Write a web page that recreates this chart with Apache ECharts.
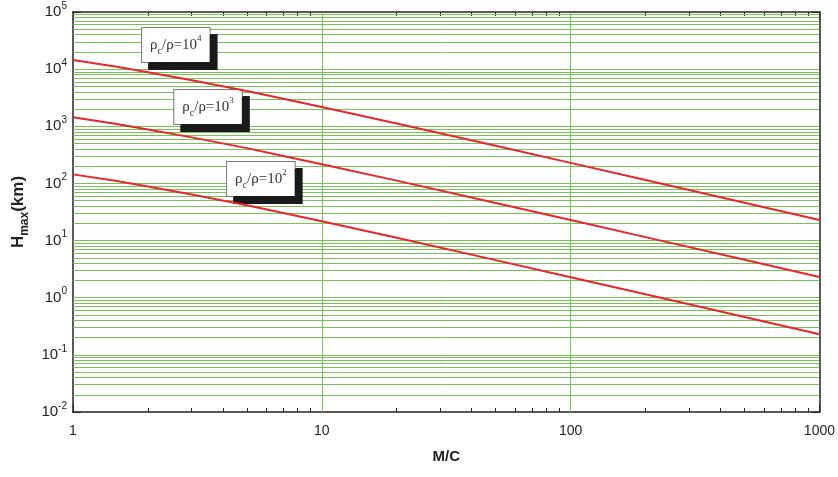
<!DOCTYPE html>
<html>
<head>
<meta charset="utf-8">
<script src="https://cdn.jsdelivr.net/npm/echarts@6/dist/echarts.min.js"></script>
<style>html,body{margin:0;padding:0;background:#fff;}#main{width:838px;height:477px;}</style>
</head>
<body>
<div id="main"></div>
<script>
// ---- data ----
const mcValues = [1, 1.5, 2, 3, 5, 7, 10, 20, 50, 100, 200, 500, 1000];
const hRatio1e4 = [14400, 11000, 8800, 6400, 4150, 3030, 2170, 1120, 455, 229, 115, 46, 23];
const hRatio1e3 = [1440, 1100, 880, 640, 415, 303, 217, 112, 45.5, 22.9, 11.5, 4.6, 2.3];
const hRatio1e2 = [144, 110, 88, 64, 41.5, 30.3, 21.7, 11.2, 4.55, 2.29, 1.15, 0.46, 0.23];
const xMajorGrid = [10, 100];
const xMinorTicks = [2,3,4,5,6,7,8,9,20,30,40,50,60,70,80,90,200,300,400,500,600,700,800,900];
const yDecades = [0.1, 1, 10, 100, 1000, 10000];
const yMinorTicks = [];
[0.01, 0.1, 1, 10, 100, 1000, 10000].forEach(function (d) {
  [2,3,4,5,6,7,8,9].forEach(function (m) { yMinorTicks.push(+(d * m).toPrecision(3)); });
});
const labelTexts = [
  { exp: '4', at: [2.59, 26500] },
  { exp: '3', at: [3.49, 2185] },
  { exp: '2', at: [5.69, 120] }
];

const GREEN = '#77c257';
const AXIS = '#222';

function pairs(ys) { return mcValues.map(function (x, i) { return [x, ys[i]]; }); }

const chart = echarts.init(document.getElementById('main'), null, { renderer: 'canvas' });

function xAxisBase(pos, extra) {
  return Object.assign({
    type: 'log', logBase: 10, min: 1, max: 1000, position: pos,
    axisLine: { show: true, onZero: false, lineStyle: { color: AXIS, width: 1.5 } },
    axisTick: { show: true, inside: true, length: 8, lineStyle: { color: AXIS, width: 1 } },
    axisLabel: { show: false },
    splitLine: { show: false },
    minorTick: { show: false }, minorSplitLine: { show: false }
  }, extra);
}
function yAxisBase(pos, extra) {
  return Object.assign({
    type: 'log', logBase: 10, min: 0.01, max: 100000, position: pos,
    axisLine: { show: true, onZero: false, lineStyle: { color: AXIS, width: 1.5 } },
    axisTick: { show: true, inside: true, length: 8, lineStyle: { color: AXIS, width: 1 } },
    axisLabel: { show: false },
    splitLine: { show: false },
    minorTick: { show: false }, minorSplitLine: { show: false }
  }, extra);
}

const boxRich = {
  a: { fontFamily: 'Liberation Serif', fontSize: 15, color: '#333', lineHeight: 22 },
  sub: { fontFamily: 'Liberation Serif', fontSize: 10, color: '#333', lineHeight: 12, verticalAlign: 'bottom' },
  sup: { fontFamily: 'Liberation Serif', fontSize: 9, color: '#333', lineHeight: 12, verticalAlign: 'top' }
};

const gridLines = []
  .concat(yMinorTicks.map(function (v) { return { yAxis: v }; }))
  .concat(yDecades.map(function (v) { return { yAxis: v }; }))
  .concat(xMajorGrid.map(function (v) { return { xAxis: v }; }));

const option = {
  animation: false,
  backgroundColor: '#fff',
  grid: { left: 73, right: 17, top: 12, bottom: 65 },
  xAxis: [
    xAxisBase('bottom', {
      name: 'M/C', nameLocation: 'middle', nameGap: 37,
      nameTextStyle: { fontFamily: 'Liberation Sans', fontSize: 15, fontWeight: 'bold', color: '#222' },
      axisLabel: { show: true, margin: 12, fontFamily: 'Liberation Sans', fontSize: 14, color: '#222',
        formatter: function (v) { return String(Math.round(v)); } }
    }),
    xAxisBase('bottom', { axisLine: { show: false }, axisTick: { show: true, inside: true, length: 4, customValues: xMinorTicks, lineStyle: { color: AXIS } } }),
    xAxisBase('top', {}),
    xAxisBase('top', { axisLine: { show: false }, axisTick: { show: true, inside: true, length: 4, customValues: xMinorTicks, lineStyle: { color: AXIS } } })
  ],
  yAxis: [
    yAxisBase('left', {
      name: '{h|H}{s|max}{h|(km)}', nameLocation: 'middle', nameGap: 41, nameRotate: 90,
      nameTextStyle: {
        rich: {
          h: { fontFamily: 'Liberation Sans', fontSize: 17, fontWeight: 'bold', color: '#222', lineHeight: 24 },
          s: { fontFamily: 'Liberation Sans', fontSize: 12, fontWeight: 'bold', color: '#222', lineHeight: 14, verticalAlign: 'bottom' }
        }
      },
      axisLabel: {
        show: true, margin: 6,
        formatter: function (v) {
          const e = Math.round(Math.log10(v));
          return '{b|10}{s|' + e + '}';
        },
        rich: {
          b: { fontFamily: 'Liberation Sans', fontSize: 15, color: '#222', lineHeight: 22 },
          s: { fontFamily: 'Liberation Sans', fontSize: 10, color: '#222', lineHeight: 12, verticalAlign: 'top' }
        }
      }
    }),
    yAxisBase('left', { axisLine: { show: false }, axisTick: { show: true, inside: true, length: 4, customValues: yMinorTicks, lineStyle: { color: AXIS } } }),
    yAxisBase('right', {}),
    yAxisBase('right', { axisLine: { show: false }, axisTick: { show: true, inside: true, length: 4, customValues: yMinorTicks, lineStyle: { color: AXIS } } })
  ],
  series: [
    {
      type: 'line', xAxisIndex: 0, yAxisIndex: 0, data: [], silent: true, z: 1,
      markLine: {
        silent: true, symbol: ['none', 'none'], animation: false, precision: 6,
        label: { show: false },
        emphasis: { disabled: true },
        lineStyle: { color: GREEN, width: 1, type: 'solid', opacity: 1 },
        data: gridLines
      }
    },
    { type: 'line', name: '1e4', data: pairs(hRatio1e4), showSymbol: false, lineStyle: { color: '#e8262b', width: 2 }, z: 5 },
    { type: 'line', name: '1e3', data: pairs(hRatio1e3), showSymbol: false, lineStyle: { color: '#e8262b', width: 2 }, z: 5 },
    { type: 'line', name: '1e2', data: pairs(hRatio1e2), showSymbol: false, lineStyle: { color: '#e8262b', width: 2 }, z: 5 },
    {
      type: 'scatter', data: [], z: 10,
      markPoint: {
        silent: true, animation: false,
        symbol: 'rect', symbolSize: 1,
        itemStyle: { color: 'rgba(0,0,0,0)' },
        label: {
          show: true, position: 'inside',
          backgroundColor: '#fff', borderColor: '#777', borderWidth: 1,
          padding: [6, 8, 6, 8],
          shadowColor: '#1a1a1a', shadowOffsetX: 7, shadowOffsetY: 7, shadowBlur: 0,
          rich: boxRich
        },
        data: labelTexts.map(function (t) {
          return { coord: t.at, label: { formatter: '{a|ρ}{sub|c}{a|/ρ=10}{sup|' + t.exp + '}' } };
        })
      }
    }
  ]
};
chart.setOption(option);
</script>
</body>
</html>
